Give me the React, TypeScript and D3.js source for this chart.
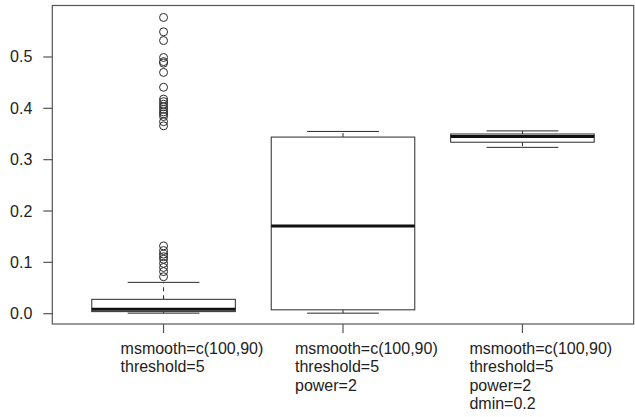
import React from "react";
import * as d3 from "d3";

const categories = ["1", "2", "3"];
const labelLines = [
  ["msmooth=c(100,90)", "threshold=5"],
  ["msmooth=c(100,90)", "threshold=5", "power=2"],
  ["msmooth=c(100,90)", "threshold=5", "power=2", "dmin=0.2"],
];
const whiskerLow = [0.001, 0.001, 0.324];
const q1 = [0.004, 0.0075, 0.334];
const median = [0.0085, 0.171, 0.345];
const q3 = [0.028, 0.344, 0.350];
const whiskerHigh = [0.061, 0.355, 0.356];
const outliers1 = [
  0.577, 0.549, 0.532, 0.499, 0.491, 0.488, 0.47, 0.441, 0.418, 0.413, 0.408,
  0.403, 0.398, 0.393, 0.389, 0.384, 0.374, 0.366, 0.132, 0.123, 0.116, 0.111,
  0.106, 0.098, 0.09, 0.082, 0.072,
];
const outliers = [outliers1, [], []];
const yTicks = [0, 0.1, 0.2, 0.3, 0.4, 0.5];

export default function App() {
  const W = 635;
  const H = 417;
  const left = 52.3;
  const right = 633.7;
  const top = 5.5;
  const bottom = 324;
  const x = d3.scaleLinear().domain([0.38, 3.62]).range([left, right]);
  const y = d3.scaleLinear().domain([-0.0201, 0.6003]).range([bottom, top]);
  const ink = "#2a2a2a";
  const axisCol = "#555";
  const font = "Liberation Sans, Arial, Helvetica, sans-serif";
  const bw = 0.4;
  const sw = 0.2;

  return (
    <svg
      width={W}
      height={H}
      style={{ position: "absolute", left: 0, top: 0, background: "#fff" }}
    >
      <rect x={0} y={0} width={W} height={H} fill="#fff" />
      {categories.map((c, i) => {
        const cx = x(i + 1);
        return (
          <g key={c}>
            {/* whiskers */}
            <line x1={cx} x2={cx} y1={y(q3[i])} y2={y(whiskerHigh[i])} stroke={ink} strokeWidth={1} strokeDasharray="4,4" />
            <line x1={cx} x2={cx} y1={y(q1[i])} y2={y(whiskerLow[i])} stroke={ink} strokeWidth={1} strokeDasharray="4,4" />
            <line x1={x(i + 1 - sw)} x2={x(i + 1 + sw)} y1={y(whiskerHigh[i])} y2={y(whiskerHigh[i])} stroke={ink} strokeWidth={1} />
            <line x1={x(i + 1 - sw)} x2={x(i + 1 + sw)} y1={y(whiskerLow[i])} y2={y(whiskerLow[i])} stroke={ink} strokeWidth={1} />
            <rect
              x={x(i + 1 - bw)}
              y={y(q3[i])}
              width={x(i + 1 + bw) - x(i + 1 - bw)}
              height={Math.max(1, y(q1[i]) - y(q3[i]))}
              fill="#fff"
              stroke={ink}
              strokeWidth={1}
            />
            <line x1={x(i + 1 - bw)} x2={x(i + 1 + bw)} y1={y(median[i])} y2={y(median[i])} stroke="#111" strokeWidth={3} />
            {outliers[i].map((v, k) => (
              <circle key={k} cx={cx} cy={y(v)} r={4} fill="none" stroke={ink} strokeWidth={1} />
            ))}
          </g>
        );
      })}
      {/* plot frame */}
      <rect x={left} y={top} width={right - left} height={bottom - top} fill="none" stroke={axisCol} strokeWidth={1.2} />
      {/* y axis */}
      {yTicks.map((t) => (
        <g key={t}>
          <line x1={left - 9} x2={left} y1={y(t)} y2={y(t)} stroke={axisCol} strokeWidth={1.2} />
          <text x={left - 20} y={y(t) + 5.5} textAnchor="end" fontFamily={font} fontSize={16} fill="#222">
            {t.toFixed(1)}
          </text>
        </g>
      ))}
      {/* x axis */}
      {categories.map((c, i) => {
        const cx = x(i + 1);
        const lx = cx - 43 - 5 * i;
        return (
          <g key={"x" + c}>
            <line x1={cx} x2={cx} y1={bottom} y2={bottom + 9} stroke={axisCol} strokeWidth={1.2} />
            {labelLines[i].map((ln, k) => (
              <text key={k} x={lx} y={354 + k * 18.4} fontFamily={font} fontSize={16} fill="#222">
                {ln}
              </text>
            ))}
          </g>
        );
      })}
    </svg>
  );
}
